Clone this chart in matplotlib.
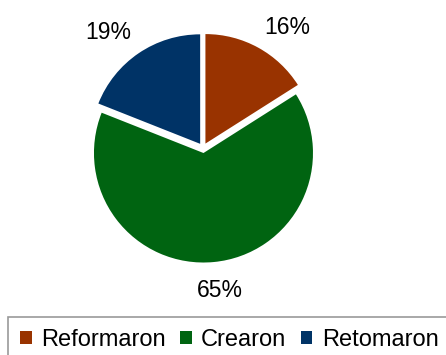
import matplotlib
matplotlib.use("Agg")
import matplotlib.pyplot as plt
import numpy as np

categories = ["Reformaron", "Crearon", "Retomaron"]
values = [16, 65, 19]
colors = ["#993300", "#006411", "#003366"]
# label positions (in pie-radius units) as placed in the reference, wedge order
label_pos = [(0.772, 1.105), (0.155, -1.30), (-0.863, 1.055)]

plt.rcParams['font.family'] = ['Liberation Sans', 'DejaVu Sans']

W, H = 446, 355
fig = plt.figure(figsize=(W / 100, H / 100), dpi=100)
ax = fig.add_axes([0, 0, 1, 1])
cx, cy, r = 203, 148, 109.5

wedges, texts, autotexts = ax.pie(
    values, colors=colors, startangle=90, counterclock=False,
    explode=[0.046] * 3, autopct=lambda p: f"{p:.0f}%", pctdistance=1.33,
    wedgeprops=dict(linewidth=0), textprops=dict(fontsize=16.5, color='black'),
    frame=True)
for t, pos in zip(autotexts, label_pos):
    t.set_position(pos)
ax.set_xlim(-cx / r, (W - cx) / r)
ax.set_ylim((cy - H) / r, cy / r)
ax.set_aspect('auto')
ax.axis('off')

leg = fig.legend(wedges, categories, loc='upper left',
                 bbox_to_anchor=(8 / W, 1 - 317 / H), ncol=3, frameon=True,
                 fancybox=False, edgecolor='#808080', fontsize=17,
                 handlelength=0.5, handleheight=0.5, handletextpad=0.4,
                 columnspacing=0.6, borderpad=0.5, borderaxespad=0)
leg.get_frame().set_linewidth(1.2)

fig.savefig("out.png", dpi=100)
